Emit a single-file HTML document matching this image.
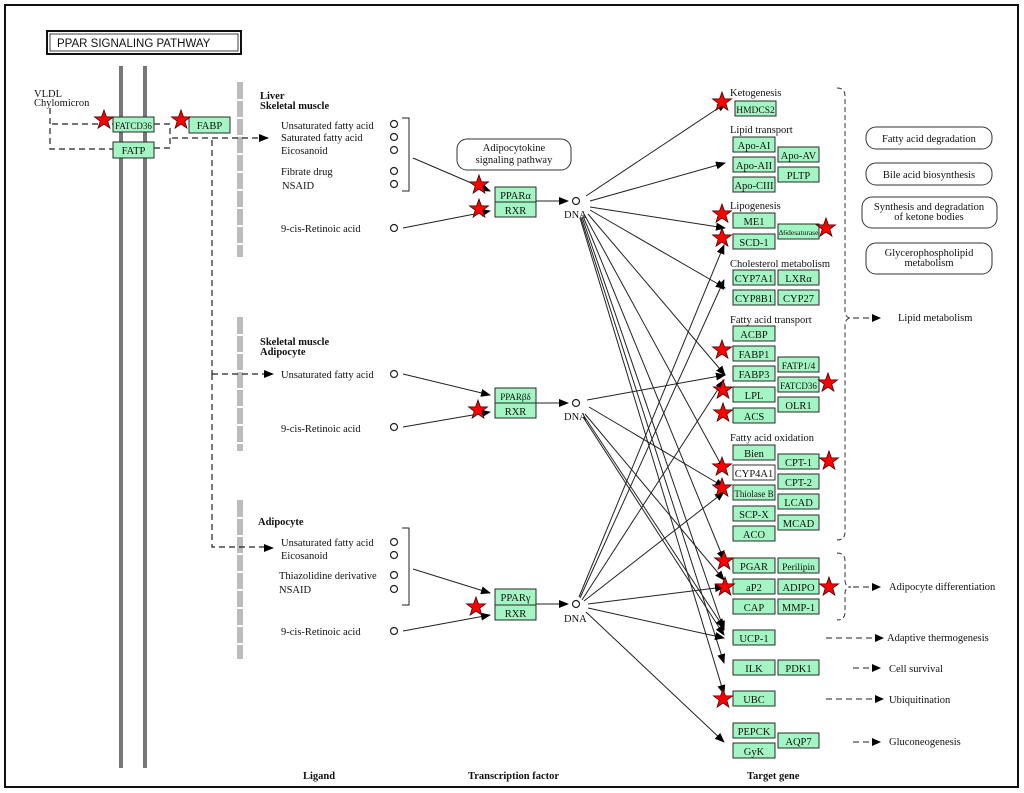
<!DOCTYPE html>
<html><head><meta charset="utf-8"><style>
html,body{margin:0;padding:0;background:#fff}
svg{display:block}
text{font-family:"Liberation Serif",serif;font-size:10.5px;fill:#111}
.g{fill:#a3f5c3;stroke:#2a2a2a;stroke-width:1}
.gt{font-size:10.5px;text-anchor:middle}
.b{font-weight:bold}
.d{stroke:#222;stroke-width:1.2;stroke-dasharray:6,4;fill:none}
.l{stroke:#222;stroke-width:1;fill:none}
.c{fill:#fff;stroke:#222;stroke-width:1.2}
</style></head><body>
<svg width="1024" height="793" viewBox="0 0 1024 793" xmlns="http://www.w3.org/2000/svg">
<defs>
<marker id="a" markerWidth="10" markerHeight="8" refX="9" refY="4" orient="auto" markerUnits="userSpaceOnUse"><path d="M0,0 L10,4 L0,8 z" fill="#000"/></marker>
<polygon id="s" points="0,-10 2.4,-3.2 9.5,-3.1 3.8,1.2 5.9,8.1 0,4 -5.9,8.1 -3.8,1.2 -9.5,-3.1 -2.4,-3.2" fill="#f00" stroke="#400" stroke-width="0.8"/>
</defs>
<rect x="5" y="5" width="1013" height="782" fill="none" stroke="#111" stroke-width="2"/>
<rect x="47" y="31" width="194" height="23" fill="#fff" stroke="#111" stroke-width="2"/>
<rect x="50" y="34" width="188" height="17" fill="none" stroke="#111" stroke-width="0.8"/>
<text x="57" y="47" style="font-family:'Liberation Sans',sans-serif;font-size:11.5px">PPAR  SIGNALING  PATHWAY</text>
<rect x="119" y="66" width="4" height="702" fill="#777"/>
<rect x="143" y="66" width="4" height="702" fill="#777"/>
<g fill="#bbb">
<rect x="237" y="82" width="6" height="175"/><rect x="237" y="317" width="6" height="134"/><rect x="237" y="500" width="6" height="159"/>
</g>
<g stroke="#fff" stroke-width="2">
<path d="M236,100h8M236,118h8M236,136h8M236,154h8M236,172h8M236,190h8M236,208h8M236,226h8M236,244h8M236,335h8M236,353h8M236,371h8M236,389h8M236,407h8M236,425h8M236,443h8M236,518h8M236,536h8M236,554h8M236,572h8M236,590h8M236,608h8M236,626h8M236,644h8"/>
</g>
<text x="34" y="97">VLDL</text><text x="34" y="106">Chylomicron</text>
<path class="d" d="M50,108 V149 H113 M52,124 H113 M154,124 H170 V148 H154 M172,138 H268" marker-end="url(#a)"/>
<path class="d" d="M212,140 V374 M212,374 H266 M212,374 V547 H266"/>
<path class="l" d="M264,374 h9" marker-end="url(#a)"/><path class="l" d="M264,548 h9" marker-end="url(#a)"/>
<rect class="g" x="113" y="117" width="41" height="15"/><text class="gt" x="133.5" y="129" style="font-size:9px">FATCD36</text>
<rect class="g" x="113" y="142" width="41" height="16"/><text class="gt" x="133.5" y="154">FATP</text>
<rect class="g" x="189" y="117" width="41" height="16"/><text class="gt" x="209.5" y="129">FABP</text>
<text class="b" x="260" y="99">Liver</text><text class="b" x="260" y="109">Skeletal muscle</text>
<text x="281" y="129">Unsaturated fatty acid</text><text x="281" y="141">Saturated fatty acid</text><text x="281" y="154">Eicosanoid</text><text x="281" y="175">Fibrate drug</text><text x="282" y="189">NSAID</text><text x="281" y="232">9-cis-Retinoic acid</text>
<text class="b" x="260" y="345">Skeletal muscle</text><text class="b" x="260" y="355">Adipocyte</text>
<text x="281" y="378">Unsaturated fatty acid</text><text x="281" y="432">9-cis-Retinoic acid</text>
<text class="b" x="258" y="525">Adipocyte</text>
<text x="281" y="546">Unsaturated fatty acid</text><text x="281" y="559">Eicosanoid</text><text x="279" y="579">Thiazolidine derivative</text><text x="279" y="593">NSAID</text><text x="281" y="635">9-cis-Retinoic acid</text>
<g class="c"><circle cx="394" cy="124" r="3.5"/><circle cx="394" cy="137" r="3.5"/><circle cx="394" cy="150" r="3.5"/><circle cx="394" cy="171" r="3.5"/><circle cx="394" cy="184" r="3.5"/><circle cx="394" cy="228" r="3.5"/><circle cx="394" cy="374" r="3.5"/><circle cx="394" cy="427" r="3.5"/><circle cx="394" cy="542" r="3.5"/><circle cx="394" cy="555" r="3.5"/><circle cx="394" cy="575" r="3.5"/><circle cx="394" cy="589" r="3.5"/><circle cx="394" cy="631" r="3.5"/>
<circle cx="576" cy="201" r="3.5"/><circle cx="576" cy="403" r="3.5"/><circle cx="576" cy="604" r="3.5"/></g>
<path class="l" d="M402,118 h7 v73 h-7 M402,528 h7 v77 h-7"/>
<rect x="457" y="139" width="114" height="31" rx="10" fill="#fff" stroke="#333"/>
<text x="514" y="151" text-anchor="middle">Adipocytokine</text><text x="514" y="163" text-anchor="middle">signaling pathway</text>
<g class="l" marker-end="url(#a)">
<path d="M413,158 L490,191"/><path d="M403,228 L490,211"/><path d="M403,374 L490,395"/><path d="M403,427 L490,412"/><path d="M413,569 L490,593"/><path d="M403,631 L490,615"/>
<path d="M536,201 L568,201"/><path d="M536,403 L568,403"/><path d="M536,604 L568,604"/>
</g>
<rect class="g" x="495" y="187" width="41" height="15"/><text class="gt" x="515.5" y="199">PPARα</text>
<rect class="g" x="495" y="202" width="41" height="15"/><text class="gt" x="515.5" y="214">RXR</text>
<rect class="g" x="495" y="388" width="41" height="15"/><text class="gt" x="515.5" y="400" style="font-size:9px">PPARβδ</text>
<rect class="g" x="495" y="403" width="41" height="15"/><text class="gt" x="515.5" y="415">RXR</text>
<rect class="g" x="495" y="589" width="41" height="16"/><text class="gt" x="515.5" y="601">PPARγ</text>
<rect class="g" x="495" y="605" width="41" height="15"/><text class="gt" x="515.5" y="617">RXR</text>
<text x="564" y="218">DNA</text><text x="564" y="420">DNA</text><text x="564" y="622">DNA</text>
<g class="l" marker-end="url(#a)">
<path d="M586,196 L726,103"/><path d="M590,201 L725,163"/><path d="M590,207 L725,228"/><path d="M590,210 L725,288"/><path d="M588,214 L725,375"/>
<path d="M584,214 L724,470"/><path d="M583,216 L724,560"/><path d="M582,217 L724,630"/><path d="M581,218 L724,663"/><path d="M580,218 L724,694"/>
<path d="M587,400 L725,375"/><path d="M589,407 L724,487"/><path d="M585,414 L724,580"/><path d="M584,416 L724,628"/><path d="M583,417 L724,635"/>
<path d="M579,597 L724,245"/><path d="M580,598 L724,280"/><path d="M582,600 L724,380"/><path d="M584,601 L724,492"/><path d="M588,604 L724,587"/><path d="M588,608 L724,638"/><path d="M586,612 L724,742"/>
</g>
<g font-size="10">
<text x="730" y="96">Ketogenesis</text><text x="730" y="133">Lipid transport</text><text x="730" y="209">Lipogenesis</text><text x="730" y="267">Cholesterol metabolism</text><text x="730" y="323">Fatty acid transport</text><text x="730" y="441">Fatty acid oxidation</text>
</g>
<g>
<rect class="g" x="735" y="101" width="41" height="15"/><text class="gt" x="755.5" y="113" style="font-size:9.5px">HMDCS2</text>
<rect class="g" x="733" y="137" width="42" height="15"/><text class="gt" x="754" y="149">Apo-AI</text>
<rect class="g" x="733" y="157" width="42" height="15"/><text class="gt" x="754" y="169">Apo-AII</text>
<rect class="g" x="733" y="177" width="42" height="15"/><text class="gt" x="754" y="189">Apo-CIII</text>
<rect class="g" x="778" y="147" width="41" height="15"/><text class="gt" x="798.5" y="159">Apo-AV</text>
<rect class="g" x="778" y="167" width="41" height="15"/><text class="gt" x="798.5" y="179">PLTP</text>
<rect class="g" x="733" y="213" width="42" height="15"/><text class="gt" x="754" y="225">ME1</text>
<rect class="g" x="733" y="234" width="42" height="15"/><text class="gt" x="754" y="246">SCD-1</text>
<rect class="g" x="778" y="224" width="41" height="15"/><text class="gt" x="798.5" y="235" style="font-size:7.5px">Δ6desaturase</text>
<rect class="g" x="733" y="270" width="42" height="15"/><text class="gt" x="754" y="282">CYP7A1</text>
<rect class="g" x="778" y="270" width="41" height="15"/><text class="gt" x="798.5" y="282">LXRα</text>
<rect class="g" x="733" y="290" width="42" height="15"/><text class="gt" x="754" y="302">CYP8B1</text>
<rect class="g" x="778" y="290" width="41" height="15"/><text class="gt" x="798.5" y="302">CYP27</text>
<rect class="g" x="733" y="326" width="42" height="15"/><text class="gt" x="754" y="338">ACBP</text>
<rect class="g" x="733" y="346" width="42" height="15"/><text class="gt" x="754" y="358">FABP1</text>
<rect class="g" x="733" y="366" width="42" height="15"/><text class="gt" x="754" y="378">FABP3</text>
<rect class="g" x="733" y="387" width="42" height="15"/><text class="gt" x="754" y="399">LPL</text>
<rect class="g" x="733" y="408" width="42" height="15"/><text class="gt" x="754" y="420">ACS</text>
<rect class="g" x="778" y="357" width="41" height="15"/><text class="gt" x="798.5" y="369" style="font-size:9.5px">FATP1/4</text>
<rect class="g" x="778" y="377" width="41" height="15"/><text class="gt" x="798.5" y="389" style="font-size:9px">FATCD36</text>
<rect class="g" x="778" y="397" width="41" height="15"/><text class="gt" x="798.5" y="409">OLR1</text>
<rect class="g" x="733" y="445" width="42" height="15"/><text class="gt" x="754" y="457">Bien</text>
<rect x="733" y="465" width="42" height="15" fill="#fff" stroke="#333"/><text class="gt" x="754" y="477">CYP4A1</text>
<rect class="g" x="733" y="485" width="42" height="15"/><text class="gt" x="754" y="497" style="font-size:9px">Thiolase B</text>
<rect class="g" x="733" y="506" width="42" height="15"/><text class="gt" x="754" y="518">SCP-X</text>
<rect class="g" x="733" y="526" width="42" height="15"/><text class="gt" x="754" y="538">ACO</text>
<rect class="g" x="778" y="454" width="41" height="15"/><text class="gt" x="798.5" y="466">CPT-1</text>
<rect class="g" x="778" y="474" width="41" height="15"/><text class="gt" x="798.5" y="486">CPT-2</text>
<rect class="g" x="778" y="494" width="41" height="15"/><text class="gt" x="798.5" y="506">LCAD</text>
<rect class="g" x="778" y="515" width="41" height="15"/><text class="gt" x="798.5" y="527">MCAD</text>
<rect class="g" x="733" y="558" width="42" height="15"/><text class="gt" x="754" y="570">PGAR</text>
<rect class="g" x="733" y="579" width="42" height="15"/><text class="gt" x="754" y="591">aP2</text>
<rect class="g" x="733" y="599" width="42" height="15"/><text class="gt" x="754" y="611">CAP</text>
<rect class="g" x="778" y="558" width="41" height="15"/><text class="gt" x="798.5" y="570" style="font-size:9.5px">Perilipin</text>
<rect class="g" x="778" y="579" width="41" height="15"/><text class="gt" x="798.5" y="591">ADIPO</text>
<rect class="g" x="778" y="599" width="41" height="15"/><text class="gt" x="798.5" y="611">MMP-1</text>
<rect class="g" x="733" y="630" width="42" height="15"/><text class="gt" x="754" y="642">UCP-1</text>
<rect class="g" x="733" y="660" width="42" height="15"/><text class="gt" x="754" y="672">ILK</text>
<rect class="g" x="778" y="660" width="41" height="15"/><text class="gt" x="798.5" y="672">PDK1</text>
<rect class="g" x="733" y="691" width="42" height="15"/><text class="gt" x="754" y="703">UBC</text>
<rect class="g" x="733" y="723" width="42" height="15"/><text class="gt" x="754" y="735">PEPCK</text>
<rect class="g" x="733" y="743" width="42" height="15"/><text class="gt" x="754" y="755">GyK</text>
<rect class="g" x="778" y="733" width="41" height="15"/><text class="gt" x="798.5" y="745">AQP7</text>
</g>
<path d="M837,88 q8,0 8,8 V310 q0,8 6,8 q-6,0 -6,8 V532 q0,8 -8,8" fill="none" stroke="#333" stroke-dasharray="5,3"/>
<path d="M837,553 q8,0 8,8 V580 q0,7 6,7 q-6,0 -6,7 V612 q0,8 -8,8" fill="none" stroke="#333" stroke-dasharray="5,3"/>
<g class="l" stroke-dasharray="6,4"><path d="M853,318 H874"/><path d="M853,587 H874"/><path d="M826,638 H877"/><path d="M853,668 H874"/><path d="M826,699 H877"/><path d="M853,742 H874"/></g>
<g fill="#000"><path d="M872,314 l9,4 l-9,4z"/><path d="M872,583 l9,4 l-9,4z"/><path d="M875,634 l9,4 l-9,4z"/><path d="M872,664 l9,4 l-9,4z"/><path d="M875,695 l9,4 l-9,4z"/><path d="M872,738 l9,4 l-9,4z"/></g>
<text x="898" y="321">Lipid metabolism</text><text x="889" y="590">Adipocyte differentiation</text><text x="887" y="641">Adaptive thermogenesis</text><text x="889" y="672">Cell survival</text><text x="889" y="703">Ubiquitination</text><text x="889" y="745">Gluconeogenesis</text>
<g fill="#fff" stroke="#333"><rect x="866" y="127" width="126" height="22" rx="10"/><rect x="866" y="163" width="126" height="22" rx="10"/><rect x="862" y="197" width="135" height="31" rx="10"/><rect x="866" y="243" width="126" height="31" rx="10"/></g>
<g text-anchor="middle"><text x="929" y="142">Fatty acid degradation</text><text x="929" y="178">Bile acid biosynthesis</text><text x="929" y="210">Synthesis and degradation</text><text x="929" y="220">of ketone bodies</text><text x="929" y="256">Glycerophospholipid</text><text x="929" y="266">metabolism</text></g>
<text class="b" x="303" y="779">Ligand</text><text class="b" x="468" y="779">Transcription factor</text><text class="b" x="747" y="779">Target gene</text>
<g>
<use href="#s" x="104" y="120"/><use href="#s" x="181" y="120"/><use href="#s" x="479" y="185"/><use href="#s" x="479" y="209"/><use href="#s" x="478" y="410"/><use href="#s" x="476" y="607"/>
<use href="#s" x="722" y="102"/><use href="#s" x="722" y="214"/><use href="#s" x="722" y="238"/><use href="#s" x="826" y="228"/><use href="#s" x="722" y="350"/><use href="#s" x="723" y="390"/><use href="#s" x="828" y="383"/><use href="#s" x="723" y="413"/><use href="#s" x="829" y="461"/><use href="#s" x="722" y="467"/><use href="#s" x="722" y="488"/><use href="#s" x="724" y="561"/><use href="#s" x="725" y="587"/><use href="#s" x="829" y="587"/><use href="#s" x="723" y="699"/>
</g>
</svg>
</body></html>
